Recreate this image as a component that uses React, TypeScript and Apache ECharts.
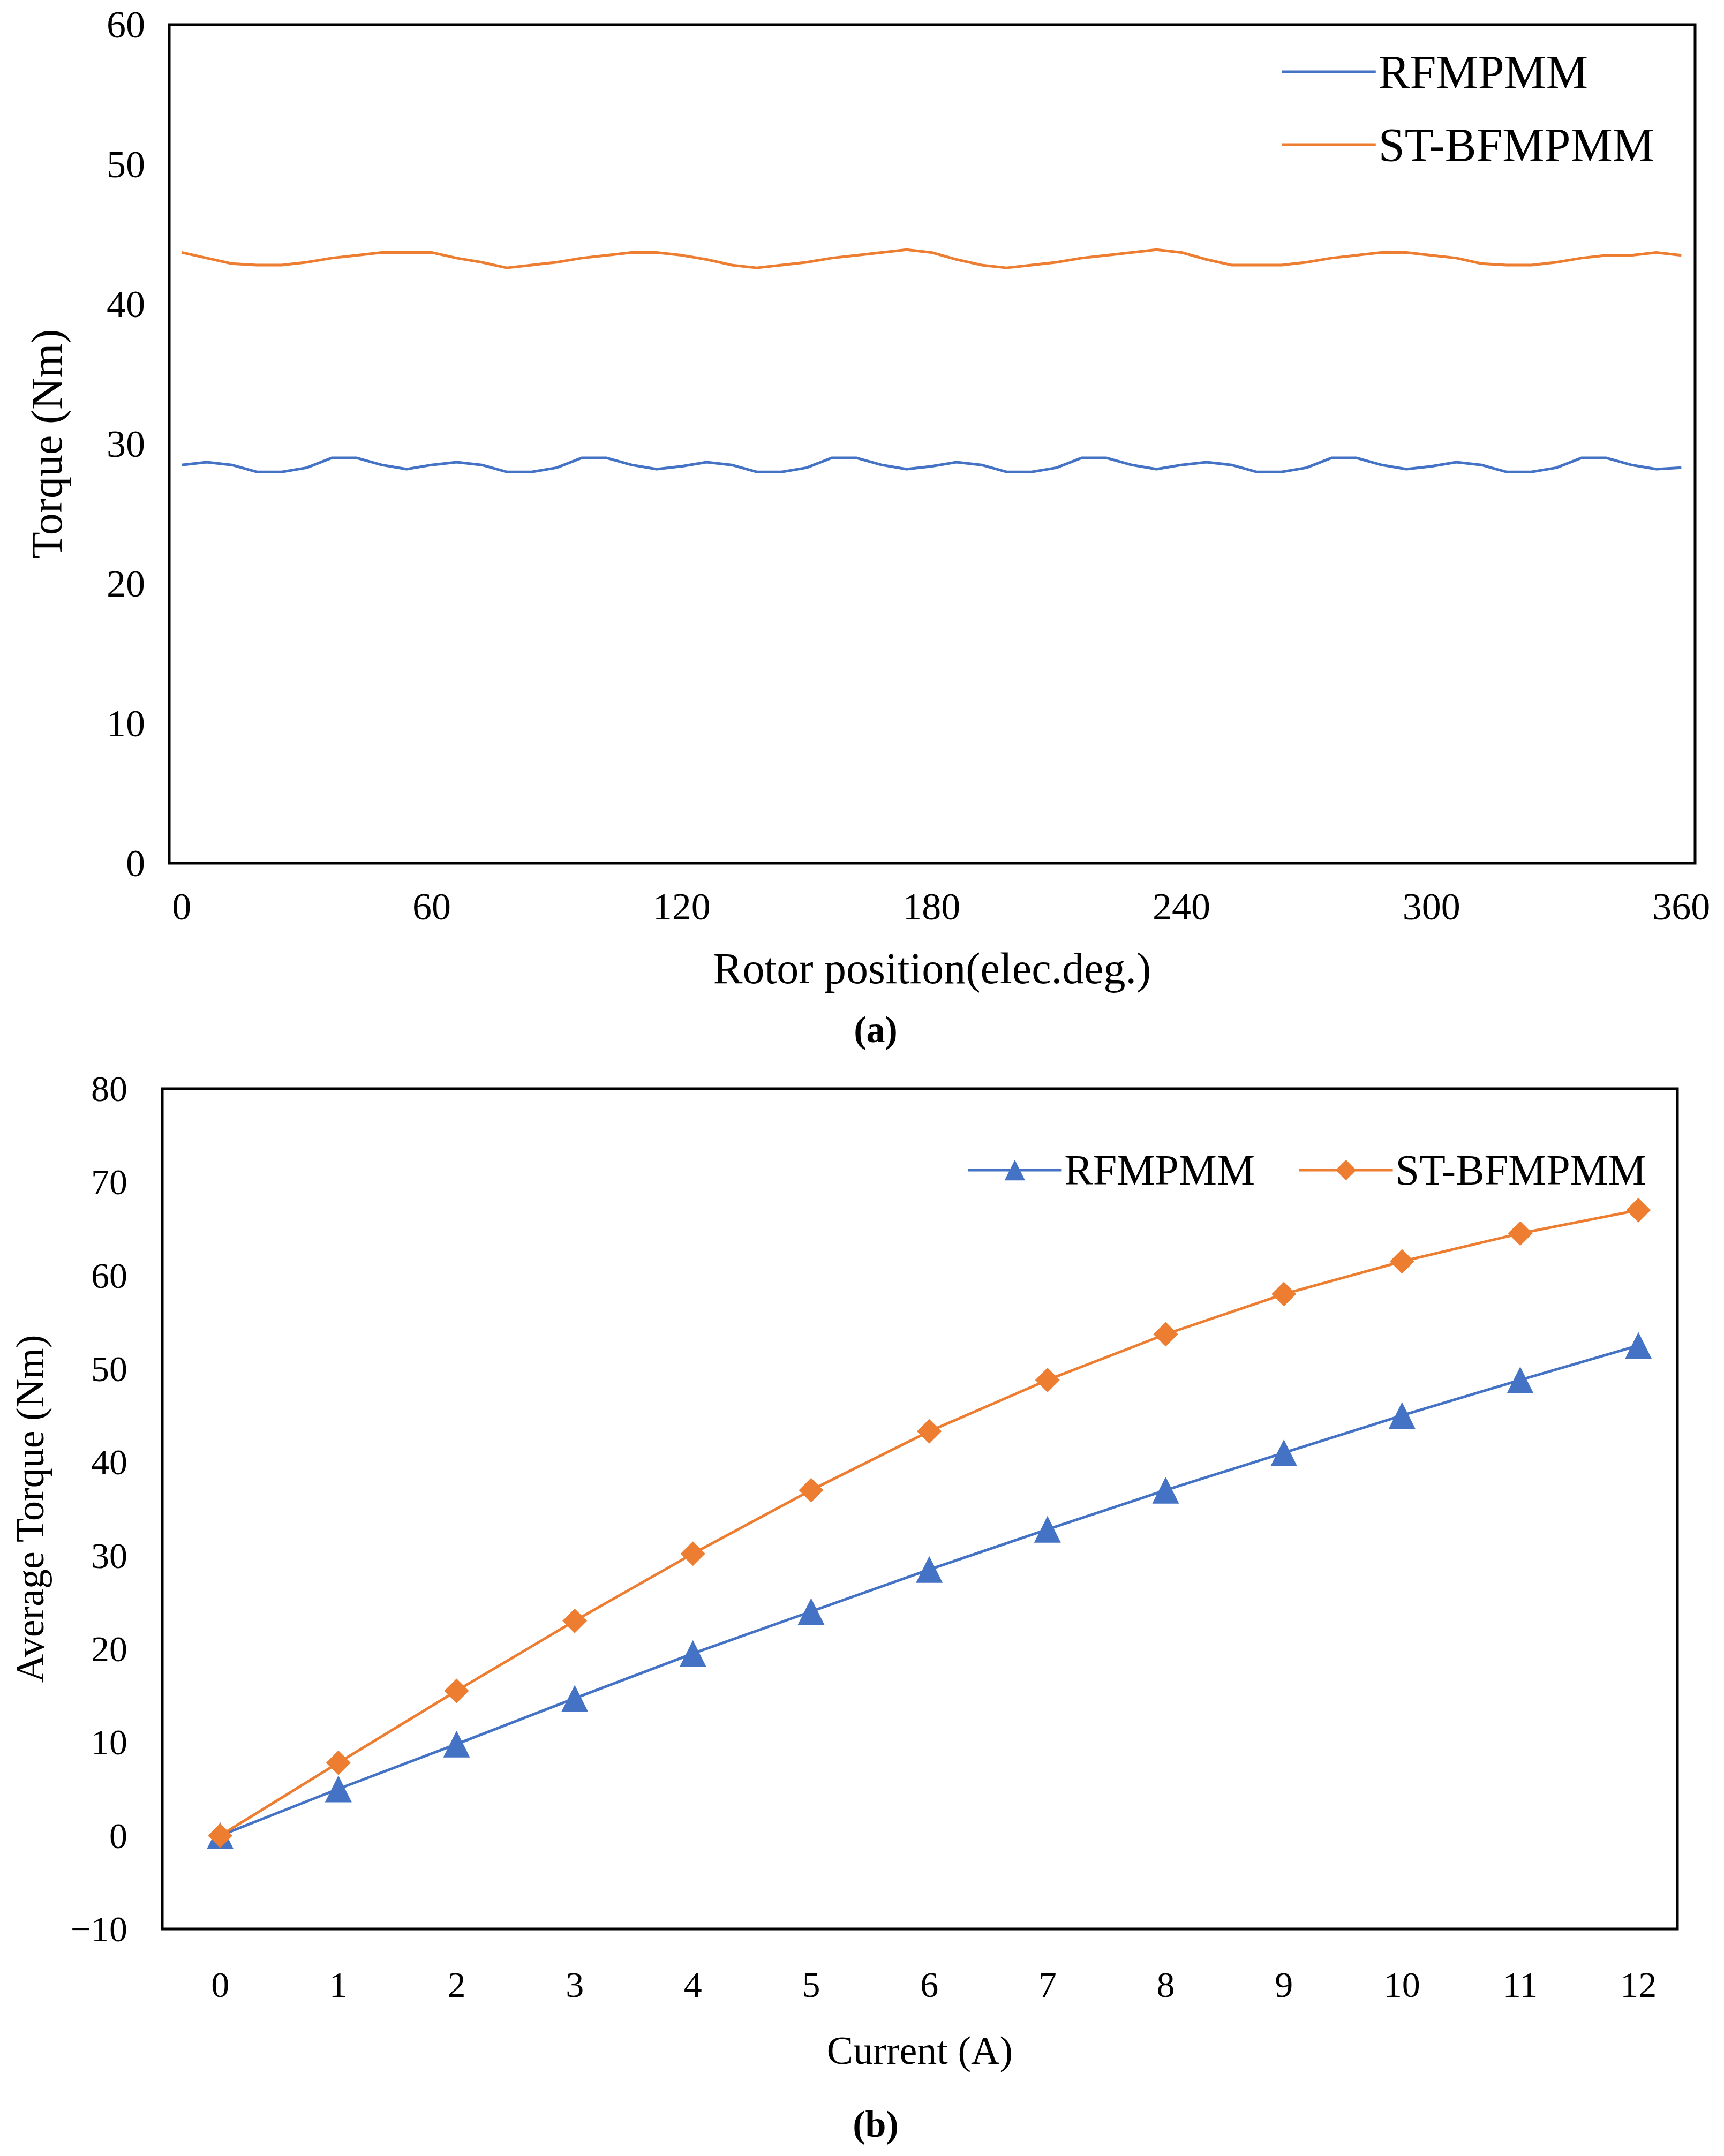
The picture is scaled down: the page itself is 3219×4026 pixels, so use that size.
import { useEffect, useRef } from "react";
import * as echarts from "echarts";

// (a) torque vs rotor position, every 6 elec. deg
const positions = Array.from({ length: 61 }, (_, i) => i * 6);
const posTicks = [0, 60, 120, 180, 240, 300, 360];
const rfTorque = [
  28.5, 28.7, 28.5, 28.0, 28.0, 28.3, 29.0, 29.0, 28.5, 28.2,
  28.5, 28.7, 28.5, 28.0, 28.0, 28.3, 29.0, 29.0, 28.5, 28.2,
  28.4, 28.7, 28.5, 28.0, 28.0, 28.3, 29.0, 29.0, 28.5, 28.2,
  28.4, 28.7, 28.5, 28.0, 28.0, 28.3, 29.0, 29.0, 28.5, 28.2,
  28.5, 28.7, 28.5, 28.0, 28.0, 28.3, 29.0, 29.0, 28.5, 28.2,
  28.4, 28.7, 28.5, 28.0, 28.0, 28.3, 29.0, 29.0, 28.5, 28.2, 28.3,
];
const stTorque = [
  43.7, 43.3, 42.9, 42.8, 42.8, 43.0, 43.3, 43.5, 43.7, 43.7,
  43.7, 43.3, 43.0, 42.6, 42.8, 43.0, 43.3, 43.5, 43.7, 43.7,
  43.5, 43.2, 42.8, 42.6, 42.8, 43.0, 43.3, 43.5, 43.7, 43.9,
  43.7, 43.2, 42.8, 42.6, 42.8, 43.0, 43.3, 43.5, 43.7, 43.9,
  43.7, 43.2, 42.8, 42.8, 42.8, 43.0, 43.3, 43.5, 43.7, 43.7,
  43.5, 43.3, 42.9, 42.8, 42.8, 43.0, 43.3, 43.5, 43.5, 43.7, 43.5,
];

// (b) average torque vs current
const currents = [0, 1, 2, 3, 4, 5, 6, 7, 8, 9, 10, 11, 12];
const rfAvg = [0, 5, 9.8, 14.7, 19.5, 24, 28.5, 32.8, 37, 41, 45, 48.8, 52.5];
const stAvg = [0, 7.8, 15.5, 23, 30.2, 37, 43.3, 48.8, 53.7, 58, 61.5, 64.5, 67];

const BLUE = "#4472C4";
const ORANGE = "#ED7D31";
const FONT = "Liberation Serif";

const App = () => {
  const chartRef = useRef(null);

  useEffect(() => {
    document.body.style.margin = "0";
    const chart = echarts.init(chartRef.current, null, { renderer: "svg" });
    const txt = { fontFamily: FONT, color: "#000" };

    const option = {
      animation: false,
      textStyle: { fontFamily: FONT },
      grid: [
        { left: 316, top: 46, width: 2849, height: 1566, show: true, borderColor: "#000", borderWidth: 5 },
        { left: 303, top: 2033, width: 2829, height: 1569, show: true, borderColor: "#000", borderWidth: 5 },
      ],
      legend: [
        {
          right: 125, top: 85, orient: "vertical", itemGap: 48,
          itemWidth: 175, itemHeight: 5, icon: "rect",
          textStyle: { ...txt, fontSize: 88 },
          data: ["RFMPMM", "ST-BFMPMM"],
        },
        {
          right: 140, top: 2140, orient: "horizontal", itemGap: 80,
          itemWidth: 175, itemHeight: 48,
          lineStyle: { width: 5 },
          textStyle: { ...txt, fontSize: 80 },
          formatter: (n: string) => n.trim(),
          data: ["RFMPMM ", "ST-BFMPMM "],
        },
      ],
      xAxis: [
        {
          type: "value", gridIndex: 0, min: -3, max: 363.3,
          name: "Rotor position(elec.deg.)", nameLocation: "middle", nameGap: 155,
          nameTextStyle: { ...txt, fontSize: 82 },
          axisLine: { show: false }, axisTick: { show: false }, splitLine: { show: false },
          axisLabel: { ...txt, fontSize: 72, margin: 45, customValues: posTicks },
        },
        {
          type: "value", gridIndex: 1, min: -0.49, max: 12.33,
          name: "Current (A)", nameLocation: "middle", nameGap: 190,
          nameTextStyle: { ...txt, fontSize: 74 },
          axisLine: { show: false }, axisTick: { show: false }, splitLine: { show: false },
          axisLabel: { ...txt, fontSize: 68, margin: 70, customValues: currents },
        },
      ],
      yAxis: [
        {
          type: "value", gridIndex: 0, min: 0, max: 60, interval: 10,
          name: "Torque (Nm)", nameLocation: "middle", nameGap: 188,
          nameTextStyle: { ...txt, fontSize: 82 },
          axisLine: { show: false }, axisTick: { show: false }, splitLine: { show: false },
          axisLabel: { ...txt, fontSize: 72, margin: 45 },
        },
        {
          type: "value", gridIndex: 1, min: -10, max: 80, interval: 10,
          name: "Average Torque (Nm)", nameLocation: "middle", nameGap: 210,
          nameTextStyle: { ...txt, fontSize: 74 },
          axisLine: { show: false }, axisTick: { show: false }, splitLine: { show: false },
          axisLabel: {
            ...txt, fontSize: 68, margin: 65,
            formatter: (v: number) => (v < 0 ? "\u2212" + Math.abs(v) : String(v)),
          },
        },
      ],
      series: [
        {
          name: "RFMPMM", type: "line", xAxisIndex: 0, yAxisIndex: 0,
          data: positions.map((p, i) => [p, rfTorque[i]]),
          showSymbol: false, lineStyle: { color: BLUE, width: 5 }, itemStyle: { color: BLUE },
        },
        {
          name: "ST-BFMPMM", type: "line", xAxisIndex: 0, yAxisIndex: 0,
          data: positions.map((p, i) => [p, stTorque[i]]),
          showSymbol: false, lineStyle: { color: ORANGE, width: 5 }, itemStyle: { color: ORANGE },
        },
        {
          name: "RFMPMM ", type: "line", xAxisIndex: 1, yAxisIndex: 1,
          data: currents.map((c, i) => [c, rfAvg[i]]),
          symbol: "triangle", symbolSize: 50,
          lineStyle: { color: BLUE, width: 5 }, itemStyle: { color: BLUE },
        },
        {
          name: "ST-BFMPMM ", type: "line", xAxisIndex: 1, yAxisIndex: 1,
          data: currents.map((c, i) => [c, stAvg[i]]),
          symbol: "diamond", symbolSize: 46,
          lineStyle: { color: ORANGE, width: 5 }, itemStyle: { color: ORANGE },
        },
      ],
      graphic: [
        { type: "text", x: 1635, y: 1922, style: { text: "(a)", ...txt, fill: "#000", fontSize: 70, fontWeight: "bold", align: "center", verticalAlign: "middle" } },
        { type: "text", x: 1635, y: 3966, style: { text: "(b)", ...txt, fill: "#000", fontSize: 70, fontWeight: "bold", align: "center", verticalAlign: "middle" } },
      ],
    };
    chart.setOption(option);

    return () => {
      chart.dispose();
    };
  }, []);

  return <div ref={chartRef} style={{ width: 3219, height: 4026 }} />;
};

export default App;
